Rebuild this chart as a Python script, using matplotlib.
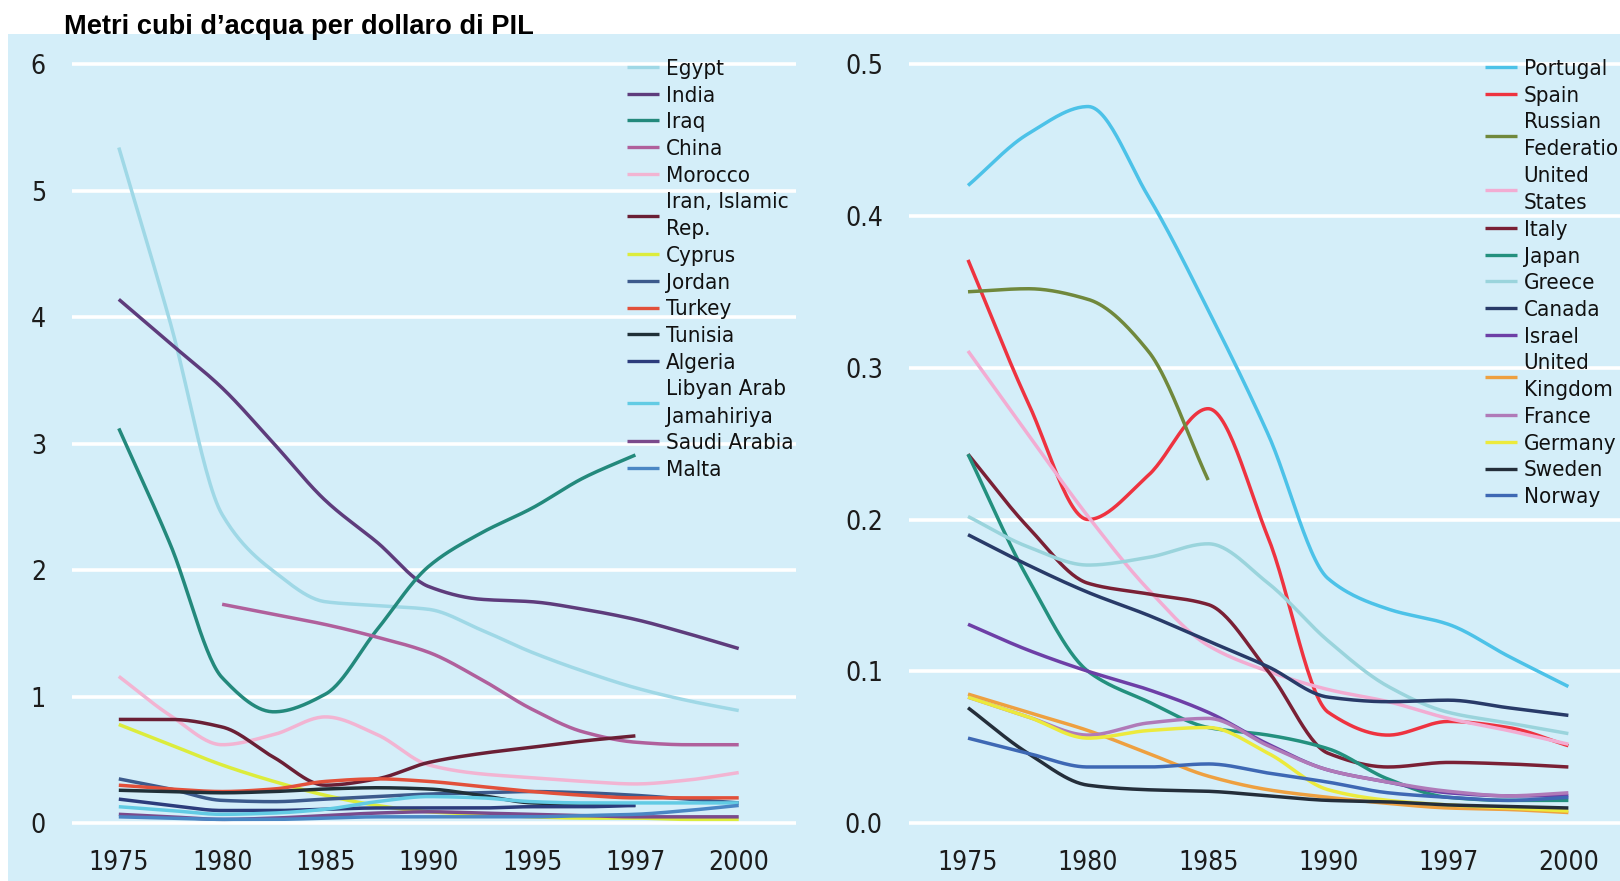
import numpy as np
import matplotlib
matplotlib.use("Agg")
import matplotlib.pyplot as plt

plt.rcParams["font.family"] = ["DejaVu Sans"]
plt.rcParams["font.stretch"] = "condensed"

# ---- data (values read at every half step between the year ticks) ----
left_years = ["1975", "1980", "1985", "1990", "1995", "1997", "2000"]
right_years = ["1975", "1980", "1985", "1990", "1997", "2000"]
nan = np.nan

left_names = ["Egypt", "India", "Iraq", "China", "Morocco", "Iran, Islamic\nRep.", "Cyprus",
              "Jordan", "Turkey", "Tunisia", "Algeria", "Libyan Arab\nJamahiriya",
              "Saudi Arabia", "Malta"]
egypt = [5.34, 3.95, 2.44, 1.99, 1.75, 1.72, 1.69, 1.53, 1.35, 1.20, 1.07, 0.97, 0.89]
india = [4.14, 3.79, 3.44, 3.00, 2.55, 2.22, 1.87, 1.77, 1.75, 1.69, 1.61, 1.50, 1.38]
iraq = [3.12, 2.20, 1.15, 0.88, 1.02, 1.53, 2.03, 2.29, 2.49, 2.73, 2.91, nan, nan]
china = [nan, nan, 1.73, 1.65, 1.57, 1.47, 1.35, 1.14, 0.90, 0.72, 0.64, 0.62, 0.62]
morocco = [1.16, 0.85, 0.62, 0.70, 0.84, 0.70, 0.46, 0.39, 0.36, 0.33, 0.31, 0.34, 0.40]
iran = [0.82, 0.82, 0.76, 0.52, 0.30, 0.35, 0.48, 0.55, 0.60, 0.65, 0.69, nan, nan]
cyprus = [0.78, 0.62, 0.46, 0.33, 0.22, 0.14, 0.09, 0.07, 0.05, 0.04, 0.04, 0.03, 0.03]
jordan = [0.35, 0.27, 0.18, 0.17, 0.19, 0.21, 0.23, 0.24, 0.25, 0.24, 0.22, 0.19, 0.16]
turkey = [0.30, 0.27, 0.25, 0.27, 0.33, 0.35, 0.33, 0.29, 0.25, 0.22, 0.20, 0.20, 0.20]
tunisia = [0.26, 0.25, 0.24, 0.25, 0.27, 0.28, 0.27, 0.22, 0.16, 0.15, 0.14, nan, nan]
algeria = [0.19, 0.14, 0.10, 0.10, 0.11, 0.12, 0.12, 0.12, 0.13, 0.13, 0.14, nan, nan]
libya = [0.13, 0.10, 0.07, 0.08, 0.11, 0.17, 0.21, 0.20, 0.17, 0.16, 0.16, 0.16, 0.16]
saudi = [0.07, 0.05, 0.03, 0.04, 0.06, 0.08, 0.09, 0.08, 0.07, 0.06, 0.05, 0.05, 0.05]
malta = [0.05, 0.04, 0.03, 0.03, 0.04, 0.05, 0.05, 0.05, 0.05, 0.06, 0.07, 0.10, 0.14]
left_values = [egypt, india, iraq, china, morocco, iran, cyprus, jordan, turkey, tunisia,
               algeria, libya, saudi, malta]
left_colors = ["#9fd8e6", "#5e3c7c", "#23897c", "#b0609c", "#f2b4d2", "#6a1f35", "#dcec3c",
               "#3c5a8c", "#e2503a", "#203038", "#2c3c7c", "#62cbe4", "#7a4a8c", "#4a86c4"]

right_names = ["Portugal", "Spain", "Russian\nFederation", "United\nStates", "Italy", "Japan",
               "Greece", "Canada", "Israel", "United\nKingdom", "France", "Germany",
               "Sweden", "Norway"]
portugal = [0.420, 0.454, 0.472, 0.413, 0.338, 0.256, 0.161, 0.141, 0.131, 0.110, 0.090]
spain = [0.371, 0.277, 0.200, 0.229, 0.273, 0.188, 0.073, 0.058, 0.067, 0.063, 0.051]
russia = [0.350, 0.352, 0.345, 0.311, 0.226, nan, nan, nan, nan, nan, nan]
usa = [0.311, 0.256, 0.202, 0.154, 0.117, 0.100, 0.088, 0.080, 0.069, 0.061, 0.052]
italy = [0.243, 0.195, 0.158, 0.151, 0.144, 0.100, 0.046, 0.037, 0.040, 0.039, 0.037]
japan = [0.243, 0.161, 0.100, 0.080, 0.063, 0.058, 0.049, 0.029, 0.017, 0.015, 0.015]
greece = [0.202, 0.182, 0.170, 0.175, 0.184, 0.158, 0.120, 0.090, 0.073, 0.066, 0.059]
canada = [0.190, 0.170, 0.152, 0.137, 0.120, 0.103, 0.083, 0.080, 0.081, 0.076, 0.071]
israel = [0.131, 0.114, 0.100, 0.088, 0.073, 0.052, 0.035, 0.027, 0.020, 0.018, 0.018]
uk = [0.085, 0.073, 0.061, 0.046, 0.031, 0.022, 0.017, 0.013, 0.010, 0.009, 0.007]
france = [0.083, 0.070, 0.058, 0.066, 0.069, 0.051, 0.035, 0.027, 0.021, 0.018, 0.020]
germany = [0.083, 0.070, 0.056, 0.061, 0.063, 0.046, 0.022, 0.015, 0.012, 0.010, 0.008]
sweden = [0.076, 0.046, 0.025, 0.022, 0.021, 0.018, 0.015, 0.014, 0.012, 0.011, 0.010]
norway = [0.056, 0.046, 0.037, 0.037, 0.039, 0.033, 0.027, 0.020, 0.017, 0.015, 0.017]
right_values = [portugal, spain, russia, usa, italy, japan, greece, canada, israel, uk,
                france, germany, sweden, norway]
right_colors = ["#4cc2e8", "#ee3340", "#70883c", "#f2acd2", "#7a2035", "#23907e", "#9ad4dc",
                "#283a68", "#6d3fa6", "#eea040", "#b07ab8", "#ecea3c", "#242e3a", "#3e68b4"]

BG = "#d4eef9"


def pchip(x, y, xs):
    # monotone cubic through the read points, only used to draw smooth curves
    h = np.diff(x)
    d = np.diff(y) / h
    m = np.zeros_like(y)
    m[0], m[-1] = d[0], d[-1]
    for k in range(1, len(y) - 1):
        if d[k - 1] * d[k] > 0:
            w1 = 2 * h[k] + h[k - 1]
            w2 = h[k] + 2 * h[k - 1]
            m[k] = (w1 + w2) / (w1 / d[k - 1] + w2 / d[k])
    idx = np.clip(np.searchsorted(x, xs) - 1, 0, len(x) - 2)
    t = (xs - x[idx]) / h[idx]
    h00 = 2 * t**3 - 3 * t**2 + 1
    h10 = t**3 - 2 * t**2 + t
    h01 = -2 * t**3 + 3 * t**2
    h11 = t**3 - t**2
    return h00 * y[idx] + h10 * h[idx] * m[idx] + h01 * y[idx + 1] + h11 * h[idx] * m[idx + 1]


def draw_panel(ax, names, values, colors, labels, ylim, yticks, yfmt, legend_xy):
    ax.set_facecolor("none")
    for name, vals, c in zip(names, values, colors):
        y = np.array(vals, dtype=float)
        x = np.arange(len(y)) / 2.0
        ok = ~np.isnan(y)
        xs = np.linspace(x[ok][0], x[ok][-1], 300)
        ax.plot(xs, pchip(x[ok], y[ok], xs), color=c, lw=2.5, label=name,
                solid_capstyle="butt")
    ax.set_ylim(*ylim)
    ax.set_yticks(yticks)
    ax.set_yticklabels([yfmt.format(v) for v in yticks])
    ax.set_xticks(np.arange(len(labels)))
    ax.set_xticklabels(labels)
    ax.grid(axis="y", color="white", lw=2.6)
    ax.set_axisbelow(True)
    for s in ax.spines.values():
        s.set_visible(False)
    ax.tick_params(length=0, labelsize=19, colors="#1c1c1c")
    ax.tick_params(axis="x", pad=10)
    ax.tick_params(axis="y", pad=19)
    leg = ax.legend(loc="upper left", bbox_to_anchor=legend_xy, bbox_transform=ax.figure.transFigure,
                    frameon=False, fontsize=16, borderpad=0, handlelength=1.45,
                    handletextpad=0.3, labelspacing=0.3, borderaxespad=0)
    for line in leg.get_lines():
        line.set_linewidth(2.4)
    for t in leg.get_texts():
        t.set_color("#111111")
        t.set_linespacing(1.45)


fig = plt.figure(figsize=(16.2, 8.81), dpi=100)
fig.patch.set_facecolor("white")

# light blue panel behind both charts
bg = fig.add_axes([8 / 1568, 0, 1 - 8 / 1568, 1 - 33 / 853], zorder=-1)
bg.set_facecolor(BG)
bg.set_xticks([])
bg.set_yticks([])
for s in bg.spines.values():
    s.set_visible(False)

bottom = 1 - 809.25 / 853
height = (809.25 - 37.5) / 853
ax1 = fig.add_axes([70 / 1568, bottom, 700 / 1568, height])
ax1.set_xlim(-0.45, 6.55)
draw_panel(ax1, left_names, left_values, left_colors, left_years, (-0.1, 6.2),
           [0, 1, 2, 3, 4, 5, 6], "{:d}", (607 / 1568, 1 - 57 / 853))

ax2 = fig.add_axes([880 / 1568, bottom, 688 / 1568, height])
ax2.set_xlim(-0.49, 5.43)
draw_panel(ax2, right_names, right_values, right_colors, right_years, (-0.1 / 12, 0.5 + 0.1 / 6),
           [0.0, 0.1, 0.2, 0.3, 0.4, 0.5], "{:.1f}", (1437 / 1568, 1 - 57 / 853))

fig.text(62 / 1568, 1 - 26 / 853, "Metri cubi d\u2019acqua per dollaro di PIL",
         family=["Liberation Sans", "DejaVu Sans"], fontstretch="normal", fontweight="bold",
         fontsize=19.6, va="center", ha="left", color="black")

fig.savefig("out.png", dpi=100)
